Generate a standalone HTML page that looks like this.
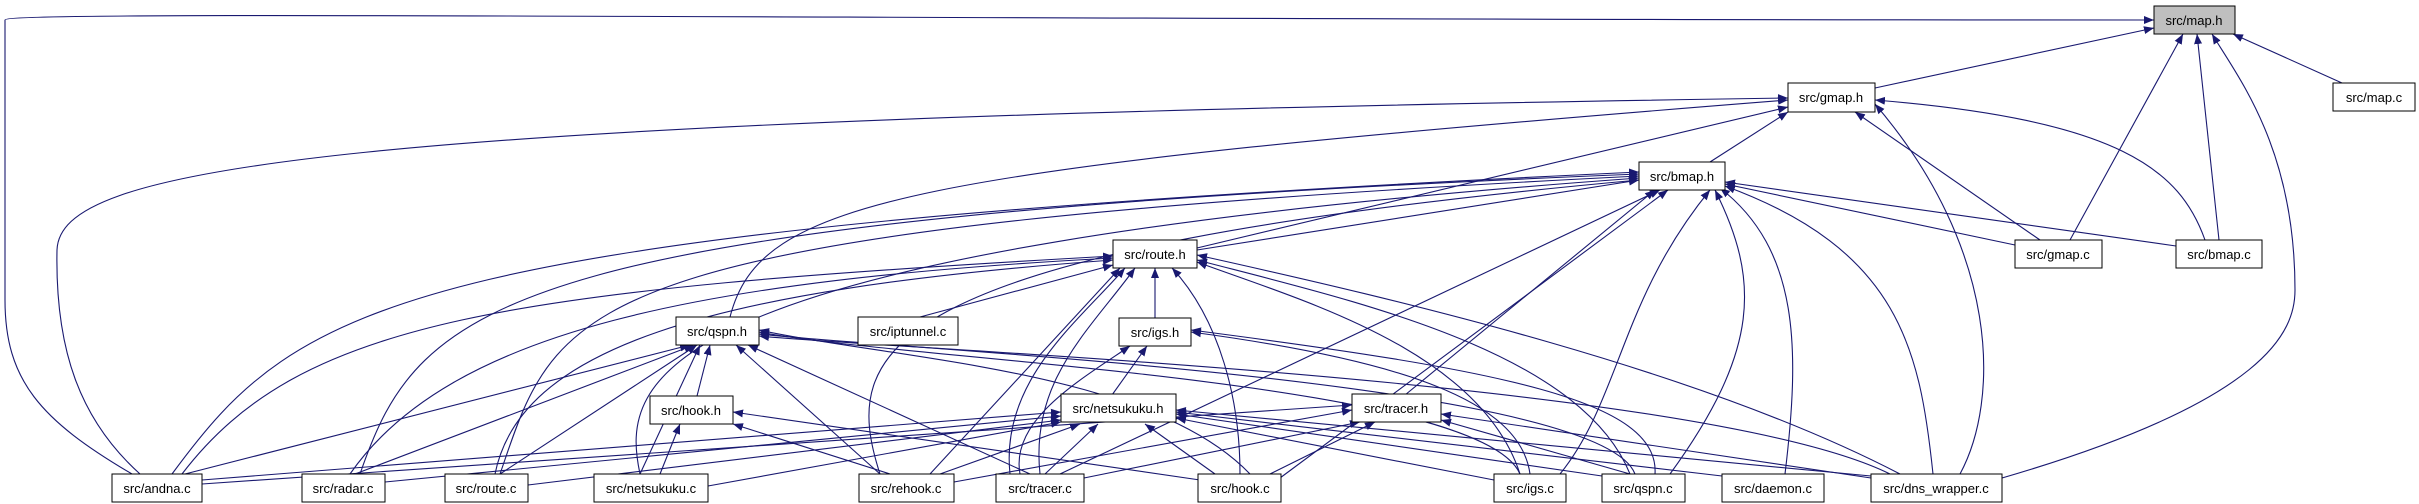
<!DOCTYPE html>
<html><head><meta charset="utf-8"><style>
html,body{margin:0;padding:0;background:#fff;}
svg{display:block;}
text{font-family:"Liberation Sans",sans-serif;font-size:13px;fill:#000;text-anchor:middle;}
.e{stroke:#191970;stroke-width:1.1;fill:none;marker-end:url(#a);}
.n{fill:#fff;stroke:#000;stroke-width:1;}
.s{fill:#444;}
</style></head><body>
<svg width="2419" height="504" viewBox="0 0 2419 504" xmlns="http://www.w3.org/2000/svg">
<defs><marker id="a" viewBox="0 0 10 10" refX="10" refY="5" markerWidth="10" markerHeight="10" markerUnits="userSpaceOnUse" orient="auto"><path d="M0,1 L10,5 L0,9 z" fill="#191970"/></marker></defs>
<g>
<!-- map.h -->
<path class="e" d="M1875,88 L2154,28"/>
<path class="e" d="M2342,83 L2233,34"/>
<path class="e" d="M2070,240 L2183,34"/>
<path class="e" d="M2219,240 L2197,34"/>
<path class="e" d="M2002,478 C2270,400 2295,330 2295,290 C2295,150 2240,80 2212,34"/>
<path class="e" d="M132,474 C40,420 5,380 5,300 L5,20 C5,10 900,20 2154,20"/>
<!-- gmap.h -->
<path class="e" d="M1710,162 L1788,112"/>
<path class="e" d="M1197,248 L1788,107"/>
<path class="e" d="M730,317 C760,200 900,170 1788,100"/>
<path class="e" d="M140,474 C80,420 55,350 57,250 C60,170 300,120 1788,98"/>
<path class="e" d="M2040,240 L1855,112"/>
<path class="e" d="M2205,240 C2180,170 2120,120 1875,100"/>
<path class="e" d="M1960,474 C2000,400 2000,250 1875,104"/>
<!-- bmap.h -->
<path class="e" d="M1197,250 L1639,180"/>
<path class="e" d="M172,474 C300,300 400,230 1639,172"/>
<path class="e" d="M360,474 C420,300 500,220 1639,174"/>
<path class="e" d="M500,474 C560,300 560,230 1639,176"/>
<path class="e" d="M640,474 C620,380 640,250 1639,178"/>
<path class="e" d="M880,474 C840,350 870,250 1639,180"/>
<path class="e" d="M1405,395 L1655,190"/>
<path class="e" d="M1060,474 L1660,190"/>
<path class="e" d="M1280,478 L1668,190"/>
<path class="e" d="M1560,474 C1620,400 1620,300 1710,190"/>
<path class="e" d="M1670,474 C1760,350 1760,280 1715,190"/>
<path class="e" d="M1785,474 C1800,350 1800,250 1720,188"/>
<path class="e" d="M1933,474 C1920,350 1900,250 1725,186"/>
<path class="e" d="M2015,245 L1725,184"/>
<path class="e" d="M2176,246 L1725,182"/>
<!-- route.h -->
<path class="e" d="M182,474 C300,320 500,290 1113,256"/>
<path class="e" d="M350,474 C450,330 700,280 1113,258"/>
<path class="e" d="M495,474 C520,350 700,290 1113,260"/>
<path class="e" d="M920,317 L1113,265"/>
<path class="e" d="M1155,318 L1155,268"/>
<path class="e" d="M1010,474 C1000,380 1080,320 1125,268"/>
<path class="e" d="M1040,474 C1030,380 1090,330 1135,268"/>
<path class="e" d="M930,474 L1120,268"/>
<path class="e" d="M1240,474 C1240,400 1220,320 1172,268"/>
<path class="e" d="M1520,474 C1480,350 1300,300 1197,262"/>
<path class="e" d="M1630,474 C1580,350 1350,300 1197,260"/>
<path class="e" d="M1900,474 C1700,370 1400,300 1197,255"/>
<!-- qspn.h -->
<path class="e" d="M185,474 L690,345"/>
<path class="e" d="M355,474 L694,345"/>
<path class="e" d="M500,474 L697,345"/>
<path class="e" d="M640,474 L700,345"/>
<path class="e" d="M697,396 L710,345"/>
<path class="e" d="M880,474 L736,345"/>
<path class="e" d="M1030,474 L748,345"/>
<path class="e" d="M1250,474 C1150,370 900,360 759,330"/>
<path class="e" d="M1520,474 C1480,380 900,360 759,332"/>
<path class="e" d="M1635,474 C1600,380 900,350 759,334"/>
<path class="e" d="M1890,474 C1700,380 900,350 759,336"/>
<!-- igs.h -->
<path class="e" d="M1112,395 L1147,346"/>
<path class="e" d="M1020,474 C1010,420 1080,380 1130,346"/>
<path class="e" d="M1530,474 C1520,400 1400,360 1191,332"/>
<path class="e" d="M1655,474 C1660,400 1500,370 1191,330"/>
<!-- hook.h -->
<path class="e" d="M660,474 L680,424"/>
<path class="e" d="M890,474 L733,424"/>
<path class="e" d="M1200,480 L733,412"/>
<!-- netsukuku.h -->
<path class="e" d="M202,480 L1061,412"/>
<path class="e" d="M385,482 L1061,416"/>
<path class="e" d="M528,485 L1061,420"/>
<path class="e" d="M708,486 L1061,422"/>
<path class="e" d="M940,474 L1080,424"/>
<path class="e" d="M1045,474 L1098,424"/>
<path class="e" d="M1215,474 L1145,424"/>
<path class="e" d="M1494,480 L1176,418"/>
<path class="e" d="M1602,476 L1176,414"/>
<path class="e" d="M1722,476 L1176,412"/>
<path class="e" d="M1871,476 L1176,410"/>
<!-- tracer.h -->
<path class="e" d="M202,484 L1352,405"/>
<path class="e" d="M954,482 L1352,410"/>
<path class="e" d="M1084,478 L1360,422"/>
<path class="e" d="M1270,474 L1375,422"/>
<path class="e" d="M1630,474 L1441,420"/>
<path class="e" d="M1871,478 L1441,414"/>
</g>
<g>
<rect x="2154" y="6" width="81" height="28" fill="#bfbfbf" stroke="#000"/><text x="2194" y="25">src/map.h</text>
<rect class="n" x="2333" y="83" width="82" height="28"/><text x="2374" y="102">src/map.c</text>
<rect class="n" x="1788" y="83" width="87" height="29"/><text x="1831" y="102">src/gmap.h</text>
<rect class="n" x="1639" y="162" width="86" height="28"/><text x="1682" y="181">src/bmap.h</text>
<rect class="n" x="1113" y="240" width="84" height="28"/><text x="1155" y="259">src/route.h</text>
<rect class="n" x="1119" y="318" width="72" height="28"/><text x="1155" y="337">src/igs.h</text>
<rect class="n" x="1061" y="394" width="115" height="28"/><text x="1118" y="413">src/netsukuku.h</text>
<rect class="n" x="1352" y="394" width="89" height="28"/><text x="1396" y="413">src/tracer.h</text>
<rect class="n" x="2015" y="240" width="87" height="28"/><text x="2058" y="259">src/gmap.c</text>
<rect class="n" x="2176" y="240" width="86" height="28"/><text x="2219" y="259">src/bmap.c</text>
<rect class="n" x="676" y="317" width="83" height="28"/><text x="717" y="336">src/qspn.h</text>
<rect class="n" x="858" y="317" width="100" height="28"/><text x="908" y="336">src/iptunnel.c</text>
<rect class="n" x="650" y="396" width="83" height="28"/><text x="691" y="415">src/hook.h</text>
<rect class="n" x="112" y="474" width="90" height="28"/><text x="157" y="493">src/andna.c</text>
<rect class="n" x="302" y="474" width="83" height="28"/><text x="343" y="493">src/radar.c</text>
<rect class="n" x="445" y="474" width="83" height="28"/><text x="486" y="493">src/route.c</text>
<rect class="n" x="594" y="474" width="114" height="28"/><text x="651" y="493">src/netsukuku.c</text>
<rect class="n" x="859" y="474" width="95" height="28"/><text x="906" y="493">src/rehook.c</text>
<rect class="n" x="996" y="474" width="88" height="28"/><text x="1040" y="493">src/tracer.c</text>
<rect class="n" x="1198" y="474" width="83" height="28"/><text x="1240" y="493">src/hook.c</text>
<rect class="n" x="1494" y="474" width="72" height="28"/><text x="1530" y="493">src/igs.c</text>
<rect class="n" x="1602" y="474" width="83" height="28"/><text x="1643" y="493">src/qspn.c</text>
<rect class="n" x="1722" y="474" width="102" height="28"/><text x="1773" y="493">src/daemon.c</text>
<rect class="n" x="1871" y="474" width="131" height="28"/><text x="1936" y="493">src/dns_wrapper.c</text>
</g>
</svg>
</body></html>
